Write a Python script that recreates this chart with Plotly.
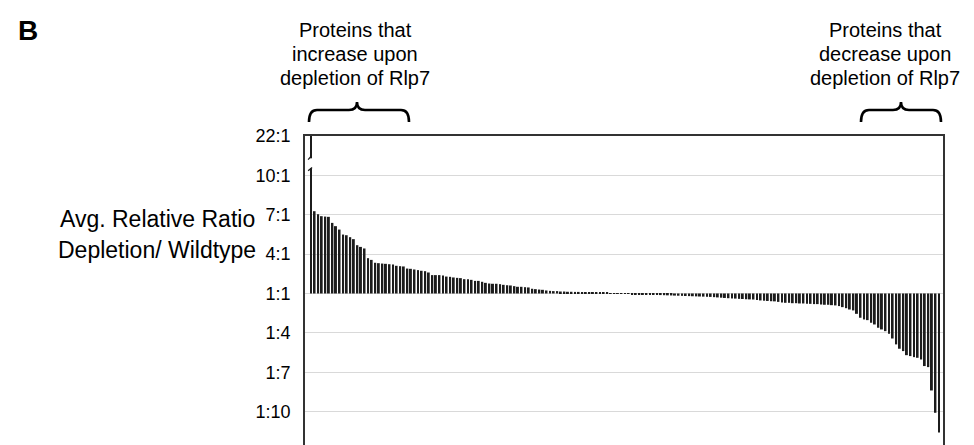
import plotly.graph_objects as go

# Signed fold change per protein: f > 0 means f:1 (increase), f < 0 means 1:|f| (decrease)
fold_increase = [
    22.0, 7.27, 7.04, 6.89, 6.86, 6.84, 6.38, 6.13, 5.87, 5.49,
    5.44, 5.29, 5.14, 4.68, 4.55, 4.43, 3.69, 3.56, 3.34, 3.31,
    3.28, 3.26, 3.23, 3.21, 3.11, 3.08, 3.06, 2.90, 2.88, 2.83,
    2.78, 2.73, 2.70, 2.60, 2.40, 2.40, 2.40, 2.37, 2.29, 2.27,
    2.22, 2.19, 2.17, 2.09, 2.09, 2.04, 1.96, 1.96, 1.89, 1.81,
    1.76, 1.74, 1.74, 1.71, 1.66, 1.63, 1.61, 1.56, 1.51, 1.51,
    1.48, 1.46, 1.36, 1.33, 1.30, 1.28, 1.23, 1.20, 1.18, 1.18,
    1.15, 1.15, 1.13, 1.13, 1.12, 1.12, 1.10, 1.10, 1.10, 1.08,
    1.08, 1.07, 1.05, 1.05, 1.03, 1.03, 1.02, 1.01,
]
fold_decrease = [
    -1.01, -1.03, -1.04, -1.05, -1.06, -1.07, -1.08, -1.09, -1.10, -1.11,
    -1.12, -1.13, -1.14, -1.15, -1.16, -1.17, -1.18, -1.19, -1.20, -1.21,
    -1.22, -1.23, -1.24, -1.25, -1.26, -1.28, -1.30, -1.32, -1.34, -1.36,
    -1.38, -1.39, -1.41, -1.42, -1.44, -1.45, -1.46, -1.50, -1.53, -1.55,
    -1.57, -1.59, -1.60, -1.64, -1.68, -1.71, -1.71, -1.74, -1.74, -1.76,
    -1.76, -1.79, -1.79, -1.81, -1.81, -1.84, -1.86, -1.86, -1.89, -1.91,
    -1.96, -2.04, -2.12, -2.22, -2.29, -2.55, -2.85, -2.98, -3.03, -3.23,
    -3.36, -3.61, -3.74, -3.87, -4.07, -4.43, -4.88, -5.21, -5.39, -5.70,
    -5.77, -5.85, -5.90, -6.03, -6.53, -6.61, -8.39, -10.09, -11.6,
]
fold_change = fold_increase + fold_decrease

tick_folds = [22, 10, 7, 4, 1, -4, -7, -10]
tick_labels = ["22:1", "10:1", "7:1", "4:1", "1:1", "1:4", "1:7", "1:10"]

y_title_lines = ["Avg. Relative Ratio", "Depletion/ Wildtype"]
left_note = ["Proteins that", "increase upon", "depletion of Rlp7"]
right_note = ["Proteins that", "decrease upon", "depletion of Rlp7"]

AXIS_BREAK = 10.0   # above 10:1 the axis is compressed (broken axis)
BREAK_SCALE = 4.0


def to_axis(f):
    if f >= 1:
        if f <= AXIS_BREAK:
            return f - 1
        return (AXIS_BREAK - 1) + (f - AXIS_BREAK) / BREAK_SCALE
    return f + 1


FONT = "Liberation Sans, Arial, sans-serif"
W, H = 974, 445
ML, MR, MT, MB = 297, 39, 128, 4
PW, PH = W - ML - MR, H - MT - MB


def px(x):
    return (x - ML) / PW


def py(y):
    return (H - MB - y) / PH


xs = list(range(len(fold_change)))
ys = [to_axis(f) for f in fold_change]

fig = go.Figure(go.Bar(x=xs, y=ys, marker=dict(color="#1c1c1c", line=dict(width=0)),
                       hoverinfo="skip"))

shapes = []
# axis-break on the first (off-scale) bar
brk_lo = to_axis(AXIS_BREAK) + 0.55
brk_hi = to_axis(AXIS_BREAK) + 1.3
shapes.append(dict(type="rect", xref="x", yref="y", x0=-0.6, x1=0.6, y0=brk_lo, y1=brk_hi,
                   fillcolor="white", line=dict(width=0), layer="above"))
shapes.append(dict(type="line", xref="x", yref="y", x0=0, x1=-0.8, y0=brk_hi + 0.15, y1=brk_hi - 0.1,
                   line=dict(color="#1c1c1c", width=1.3), layer="above"))
shapes.append(dict(type="line", xref="x", yref="y", x0=-0.8, x1=0.3, y0=brk_lo - 0.2, y1=brk_lo + 0.05,
                   line=dict(color="#1c1c1c", width=1.3), layer="above"))


def brace(x0, x1, xc, ytip, ybar, yend, r=8):
    p = (f"M {px(x0)},{py(yend)} Q {px(x0)},{py(ybar)} {px(x0 + r)},{py(ybar)} "
         f"L {px(xc - r)},{py(ybar)} Q {px(xc)},{py(ybar)} {px(xc)},{py(ytip)} "
         f"Q {px(xc)},{py(ybar)} {px(xc + r)},{py(ybar)} "
         f"L {px(x1 - r)},{py(ybar)} Q {px(x1)},{py(ybar)} {px(x1)},{py(yend)}")
    return dict(type="path", xref="paper", yref="paper", path=p,
                line=dict(color="black", width=2.6))


shapes.append(brace(301, 401, 349, 94, 102, 114))
shapes.append(brace(853, 933, 893, 94, 102, 114))

annotations = []
annotations.append(dict(text="<b>B</b>", x=px(8), y=py(23), xref="paper", yref="paper",
                        xanchor="left", yanchor="middle", showarrow=False,
                        font=dict(family=FONT, size=28, color="black")))
for t, yc in zip(y_title_lines, [211, 242]):
    annotations.append(dict(text=t, x=px(149), y=py(yc), xref="paper", yref="paper",
                            xanchor="center", yanchor="middle", showarrow=False,
                            font=dict(family=FONT, size=23, color="black")))
for t, yc in zip(left_note, [22, 46, 70]):
    annotations.append(dict(text=t, x=px(347), y=py(yc), xref="paper", yref="paper",
                            xanchor="center", yanchor="middle", showarrow=False,
                            font=dict(family=FONT, size=20, color="black")))
for t, yc in zip(right_note, [22, 46, 70]):
    annotations.append(dict(text=t, x=px(877), y=py(yc), xref="paper", yref="paper",
                            xanchor="center", yanchor="middle", showarrow=False,
                            font=dict(family=FONT, size=20, color="black")))

n = len(fold_change)
fig.update_layout(
    width=W, height=H,
    margin=dict(l=ML, r=MR, t=MT, b=MB, pad=0),
    paper_bgcolor="white", plot_bgcolor="white",
    bargap=0.45, showlegend=False,
    shapes=shapes, annotations=annotations,
    xaxis=dict(range=[-1.68, n + 0.12], showticklabels=False, showgrid=False, zeroline=False,
               ticks="", showline=True, linecolor="#333333", linewidth=1.5, mirror=True),
    yaxis=dict(range=[-11.85, 12.0], tickvals=[to_axis(f) for f in tick_folds],
               ticktext=tick_labels, showgrid=True, gridcolor="#d9d9d9", gridwidth=1,
               zeroline=False, ticks="", ticklabelstandoff=9,
               tickfont=dict(family=FONT, size=18, color="black"),
               showline=True, linecolor="#333333", linewidth=1.5, mirror=True),
)

fig.write_html("out.html")
